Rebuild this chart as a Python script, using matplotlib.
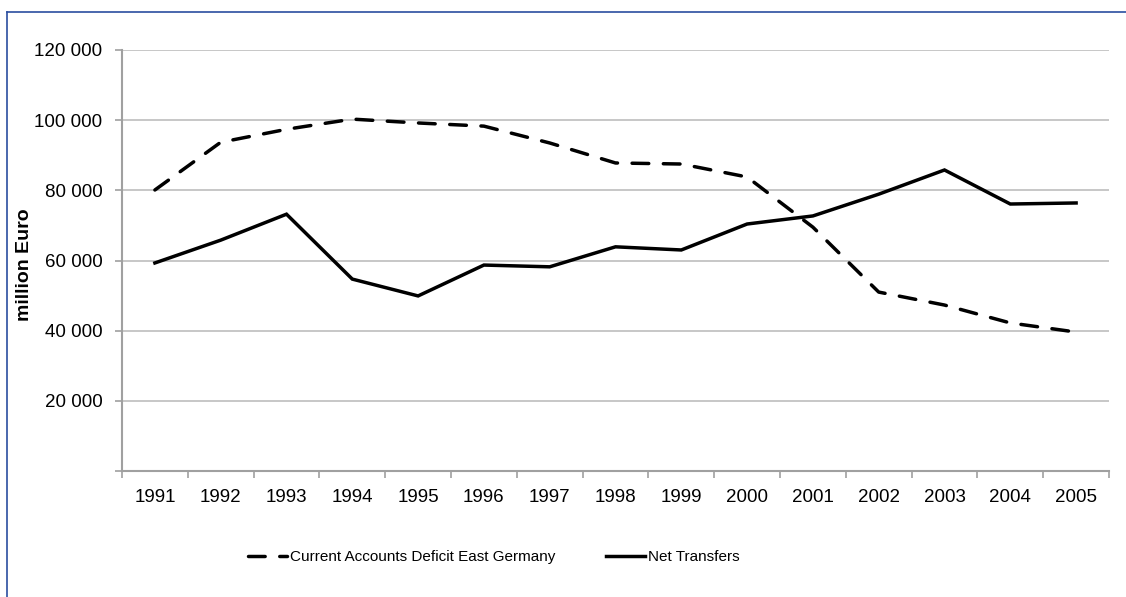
import matplotlib
matplotlib.use('Agg')
import matplotlib.pyplot as plt
import numpy as np
from matplotlib.lines import Line2D
from matplotlib.ticker import FuncFormatter

plt.rcParams['font.family'] = ['Liberation Sans', 'DejaVu Sans']

years = ['1991', '1992', '1993', '1994', '1995', '1996', '1997', '1998',
         '1999', '2000', '2001', '2002', '2003', '2004', '2005']
deficit = [80100, 93700, 97400, 100300, 99200, 98300, 93500, 87800,
           87500, 83800, 69500, 51000, 47300, 42200, 39600]
transfers = [59300, 65800, 73200, 54700, 49900, 58700, 58200, 63900,
             63000, 70400, 72700, 78900, 85800, 76100, 76400]

W, H = 1126, 597
fig = plt.figure(figsize=(W / 100, H / 100), dpi=100)
ax = fig.add_axes([122 / W, 1 - 471 / H, (1109 - 122) / W, (471 - 50) / H])

x = np.arange(len(years))
ax.plot(x, deficit, color='black', lw=2.5, dashes=(4.8, 4.2),
        dash_capstyle='round', solid_joinstyle='round',
        label='Current Accounts Deficit East Germany')
ax.plot(x, transfers, color='black', lw=2.5, solid_joinstyle='miter',
        label='Net Transfers')

ax.set_xlim(-0.5, len(years) - 0.5)
ax.set_ylim(0, 120000)
ax.set_yticks(np.arange(0, 120001, 20000))
ax.yaxis.set_major_formatter(FuncFormatter(
    lambda v, p: '' if v == 0 else f'{int(v):,}'.replace(',', ' ')))
ax.set_xticks(x)
ax.set_xticklabels(years)
ax.set_xticks(np.arange(-0.5, len(years)), minor=True)
ax.tick_params(axis='x', which='major', length=0, pad=13, labelsize=13.5)
ax.tick_params(axis='x', which='minor', length=5, color='#a0a0a0', width=1.2)
ax.tick_params(axis='y', length=5, color='#a0a0a0', width=1.2, labelsize=13.5, pad=9)

ax.grid(axis='y', color='#bebebe', lw=1.2)
ax.set_axisbelow(True)
for s in ['top', 'right']:
    ax.spines[s].set_visible(False)
for s in ['left', 'bottom']:
    ax.spines[s].set_color('#a0a0a0')
    ax.spines[s].set_linewidth(1.5)

fig.text(25 / W, 1 - 265 / H, 'million Euro', rotation=90, ha='center', va='center',
         fontweight='bold', fontsize=14)

ax.legend(loc='center left', bbox_to_anchor=(0.1135, -0.205), ncol=2, frameon=False,
          fontsize=11.0, handlelength=2.6, handletextpad=0.15, columnspacing=3.3)

# outer frame
fig.add_artist(Line2D([7 / W, 7 / W], [0, 1 - 12 / H], color='#2a4ea0', lw=1.2,
                      transform=fig.transFigure))
fig.add_artist(Line2D([7 / W, 1], [1 - 12 / H, 1 - 12 / H], color='#2a4ea0', lw=1.2,
                      transform=fig.transFigure))

fig.savefig('out.png', dpi=100)
